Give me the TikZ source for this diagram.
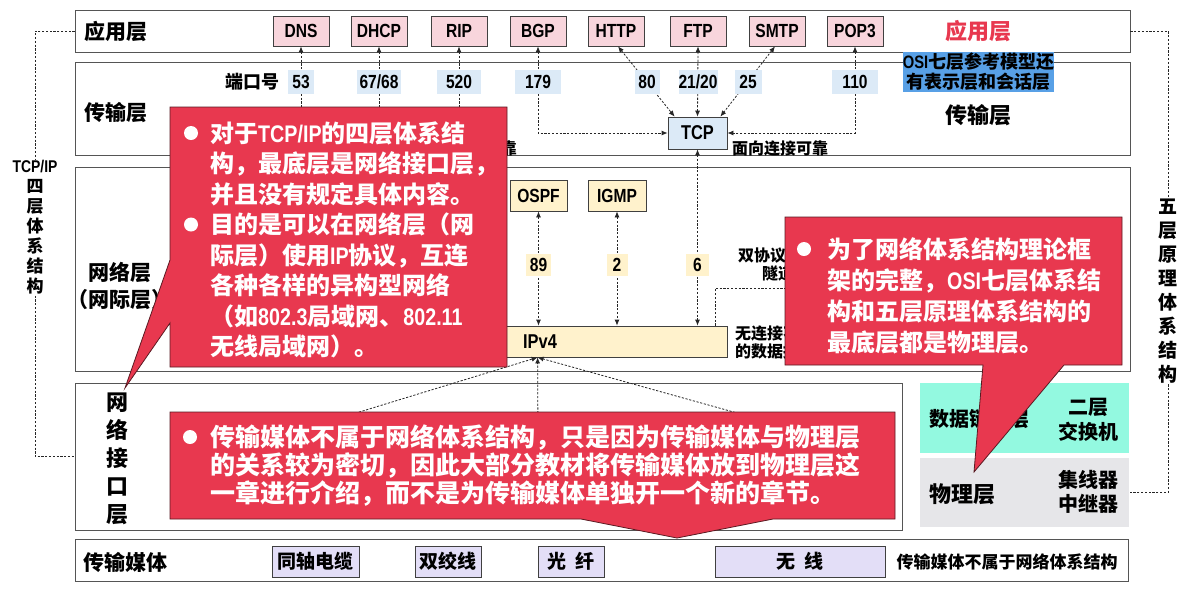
\documentclass[tikz,border=0pt]{standalone}
\usepackage{fontspec}
\setmainfont{Noto Sans CJK SC}
\newfontfamily\nar{Liberation Sans}[FakeStretch=0.82]
\usetikzlibrary{arrows.meta,calc}
\definecolor{lbord}{HTML}{555555}
\definecolor{dkb}{HTML}{404040}
\definecolor{pinkf}{HTML}{F8D5DC}
\definecolor{bluef}{HTML}{DCEAF7}
\definecolor{yelf}{HTML}{FFF2CC}
\definecolor{lavf}{HTML}{E3DEF7}
\definecolor{tealf}{HTML}{93F9E0}
\definecolor{grayf}{HTML}{E6E6E9}
\definecolor{calred}{HTML}{E8384F}
\definecolor{calbord}{HTML}{5A1A22}
\definecolor{osiblue}{HTML}{58A0E6}
\newcommand\fsz[2]{\fontsize{#1}{#2}\selectfont}
\begin{document}
\begin{tikzpicture}[x=1pt,y=-1pt,
  layer/.style={draw=lbord,line width=0.9pt,fill=white,inner sep=0},
  pbox/.style={draw=dkb,line width=0.8pt,fill=pinkf,minimum width=56,minimum height=30,inner sep=0,font=\nar\bfseries\fsz{19}{19}},
  ybox/.style={draw=dkb,line width=0.8pt,fill=yelf,minimum height=31,inner sep=0,font=\nar\bfseries\fsz{19}{19}},
  port/.style={fill=bluef,minimum height=24,inner sep=0,font=\nar\bfseries\fsz{19}{19}},
  yport/.style={fill=yelf,minimum height=22,inner sep=0,font=\nar\bfseries\fsz{19}{19}},
  mbox/.style={draw=dkb,line width=0.8pt,fill=lavf,minimum height=31,inner sep=0,font=\bfseries\fsz{19}{19}},
  lbl/.style={inner sep=0,font=\bfseries\fsz{21}{27}},
  sm/.style={inner sep=0,font=\bfseries\fsz{16}{18}},
  dl/.style={draw=black!85,line width=0.8pt,dash pattern=on 2.2pt off 1.6pt},
  dup/.style={dl,{Latex[length=6pt,width=5pt]}-},
  dend/.style={dl,-{Latex[length=6pt,width=5pt]}},
  dboth/.style={dl,{Latex[length=6pt,width=5pt]}-{Latex[length=6pt,width=5pt]}},
  callout/.style={fill=calred,draw=calbord,line width=0.8pt},
  ct/.style={anchor=west,inner sep=0,text=white,font=\bfseries\fsz{24}{24},text height=21,text depth=3},
  ctb/.style={ct,font=\bfseries\fsz{25}{25},text height=22,text depth=3}]
\path[use as bounding box,fill=white] (0,0) rectangle (1185,598);

% layer boxes
\node[layer,minimum width=1055,minimum height=42] (app) at (602.5,31) {};
\node[layer,minimum width=1055,minimum height=93] (trans) at (602.5,108.5) {};
\node[layer,minimum width=1055,minimum height=204] (net) at (602.5,269) {};
\node[layer,minimum width=827,minimum height=147] (ni) at (488.5,456.5) {};
\node[layer,minimum width=1053,minimum height=42] (media) at (601.5,560) {};
\node[fill=tealf,minimum width=209,minimum height=70,inner sep=0] (dll) at (1024.5,418) {};
\node[fill=grayf,minimum width=209,minimum height=69,inner sep=0] (phy) at (1024.5,492.5) {};

% layer labels
\node[lbl] (applbl) at (115.5,31) {应用层};
\node[lbl] (translbl) at (116,113) {传输层};
\node[lbl,align=center] (netlbl) at (120,285.5) {网络层\\（网际层）};
\node[lbl,align=center,font=\bfseries\fsz{22}{28}] (nilbl) at (117,459) {网\\络\\接\\口\\层};
\node[lbl] (medialbl) at (125,562) {传输媒体};
\node[lbl,text=calred,font=\bfseries\fsz{22}{22}] (appr) at (978,31) {应用层};
\node[lbl,font=\bfseries\fsz{22}{22}] (transr) at (978,115) {传输层};
\node[fill=osiblue,minimum width=151,minimum height=40,inner sep=0,align=center,font=\bfseries\fsz{18}{20}] (osi) at (978.5,72) {{\nar OSI}七层参考模型还\\有表示层和会话层};
\node[anchor=west,inner sep=0,font=\bfseries\fsz{20}{20}] (dlltxt) at (929,419) {数据链路层};
\node[inner sep=0,align=center,font=\bfseries\fsz{20}{25}] (swtxt) at (1088,419.5) {二层\\交换机};
\node[anchor=west,inner sep=0,font=\bfseries\fsz{22}{22}] (phytxt) at (929,494) {物理层};
\node[inner sep=0,align=center,font=\bfseries\fsz{20}{24}] (hubtxt) at (1088,491.5) {集线器\\中继器};

% side brackets
\node[inner sep=1,align=center,font=\bfseries\fsz{17}{20}] (tcpipl) at (35,227.5) {{\nar TCP/IP}\\四\\层\\体\\系\\结\\构};
\draw[dl] (app.west) -| (tcpipl.north);
\draw[dl] (tcpipl.south) |- (ni.west);
\node[inner sep=1,align=center,font=\bfseries\fsz{19}{24}] (fivel) at (1168,291) {五\\层\\原\\理\\体\\系\\结\\构};
\draw[dl] (app.east) -| (fivel.north);
\draw[dl] (fivel.south) |- (phy.east);

% application protocols
\node[pbox] (dns) at (301,31) {DNS};
\node[pbox] (dhcp) at (379,31) {DHCP};
\node[pbox] (rip) at (459,31) {RIP};
\node[pbox] (bgp) at (538,31) {BGP};
\node[pbox] (http) at (616,31) {HTTP};
\node[pbox] (ftp) at (698,31) {FTP};
\node[pbox] (smtp) at (777,31) {SMTP};
\node[pbox] (pop3) at (855,31) {POP3};

% transport
\node[draw=dkb,line width=0.8pt,fill=bluef,minimum width=59,minimum height=32,inner sep=0,font=\nar\bfseries\fsz{20}{20}] (tcp) at (697.5,133) {TCP};
\node[sm,anchor=west] (tcptxt) at (732,149) {面向连接可靠};
\node[sm,anchor=east] (udptxt) at (517,148) {靠};
\node[inner sep=0,font=\bfseries\fsz{18}{18}] (portlbl) at (252,82) {端口号};
\coordinate (udp) at (400,128);
\draw[dup] (dns.south) -- (dns.south |- udp);
\draw[dup] (dhcp.south) -- (dhcp.south |- udp);
\draw[dup] (rip.south) -- (rip.south |- udp);
\draw[dboth] (bgp.south) |- (tcp.west);
\draw[dboth] ($(http.south)+(2,0)$) -- ($(tcp.north west)+(7,0)$);
\draw[dboth] (ftp.south) -- (tcp.north);
\draw[dboth] ($(smtp.south)+(-2,0)$) -- ($(tcp.north east)+(-7,0)$);
\draw[dboth] (pop3.south) |- (tcp.east);
\node[port,minimum width=26] (p53) at (301,82) {53};
\node[port,minimum width=44] (p67) at (379,82) {67/68};
\node[port,minimum width=44] (p520) at (459,82) {520};
\node[port,minimum width=46] (p179) at (538,82) {179};
\node[port,minimum width=25] (p80) at (647,82) {80};
\node[port,minimum width=38] (p21) at (698,82) {21/20};
\node[port,minimum width=27] (p25) at (748,82) {25};
\node[port,minimum width=46] (p110) at (855,82) {110};

% network layer
\node[ybox,minimum width=57] (ospf) at (538.5,195.5) {OSPF};
\node[ybox,minimum width=58] (igmp) at (617,195.5) {IGMP};
\node[draw=dkb,line width=0.8pt,fill=yelf,minimum width=237,minimum height=31,inner sep=0] (ipv4) at (608.5,341.5) {};
\node[inner sep=0,font=\nar\bfseries\fsz{20}{20}] (ipv4t) at (540,342) {IPv4};
\draw[dboth] (ospf.south) -- (ospf.south |- ipv4.north);
\draw[dboth] (igmp.south) -- (igmp.south |- ipv4.north);
\draw[dboth] (tcp.south) -- (tcp.south |- ipv4.north);
\node[yport,minimum width=25] (p89) at (538.5,265) {89};
\node[yport,minimum width=21] (p2) at (617,265) {2};
\node[yport,minimum width=23] (p6) at (697.5,265) {6};
\coordinate (v6) at (830,288);
\draw[dl] ($(ipv4.north east)+(-12,0)$) |- (v6);
\node[sm,anchor=west] (dstxt) at (738,256) {双协议栈};
\node[sm,anchor=west] (tuntxt) at (762,273) {隧道技术};
\node[sm,anchor=west] (cltxt1) at (735,333) {无连接不可靠};
\node[sm,anchor=west] (cltxt2) at (735,351) {的数据报服务};
\coordinate (ipin) at ($(ipv4.south west)+(48,0)$);
\coordinate (nia) at (268,440);
\coordinate (nib) at (538,440);
\coordinate (nic) at (834,440);
\draw[dend] (nia) -- (ipin);
\draw[dend] (nib) -- (ipin);
\draw[dend] (nic) -- (ipin);

% transmission media
\node[mbox,minimum width=87] (coax) at (315.5,561.5) {同轴电缆};
\node[mbox,minimum width=66] (tp) at (448,561.5) {双绞线};
\node[mbox,minimum width=66] (fiber) at (571,561.5) {光\ \ 纤};
\node[mbox,minimum width=170] (wl) at (800,561.5) {无\ \ 线};
\node[inner sep=0,font=\bfseries\fsz{17}{17}] (medianote) at (1007,562) {传输媒体不属于网络体系结构};

% callout 1
\draw[callout] (170,107) -- (507,107) -- (507,367) -- (170,367) -- (170,323) -- (125,388) -- (170,260) -- cycle;
\fill[white] (191,133) circle[radius=7pt];
\fill[white] (191,224.5) circle[radius=7pt];
\node[ct] (c1a) at (210,133) {对于{\nar TCP/IP}的四层体系结};
\node[ct] (c1b) at (210,163.5) {构，最底层是网络接口层，};
\node[ct] (c1c) at (210,194) {并且没有规定具体内容。};
\node[ct] (c1d) at (210,224.5) {目的是可以在网络层（网};
\node[ct] (c1e) at (210,255) {际层）使用{\nar IP}协议，互连};
\node[ct] (c1f) at (210,285.5) {各种各样的异构型网络};
\node[ct] (c1g) at (210,316) {（如{\nar 802.3}局域网、{\nar 802.11}};
\node[ct] (c1h) at (210,346.5) {无线局域网）。};

% callout 2
\draw[callout] (785,217) -- (1122,217) -- (1122,365) -- (1064,365) -- (974,472) -- (983,365) -- (785,365) -- cycle;
\fill[white] (804,249) circle[radius=7pt];
\node[ct] (c2a) at (827,249) {为了网络体系结构理论框};
\node[ct] (c2b) at (827,280) {架的完整，{\nar OSI}七层体系结};
\node[ct] (c2c) at (827,311) {构和五层原理体系结构的};
\node[ct] (c2d) at (827,342) {最底层都是物理层。};

% callout 3
\draw[callout] (170,412) -- (895,412) -- (895,519) -- (773,519) -- (677,538) -- (581,519) -- (170,519) -- cycle;
\fill[white] (190,437) circle[radius=7pt];
\node[ctb] (c3a) at (210,437) {传输媒体不属于网络体系结构，只是因为传输媒体与物理层};
\node[ctb] (c3b) at (210,465) {的关系较为密切，因此大部分教材将传输媒体放到物理层这};
\node[ctb] (c3c) at (210,493) {一章进行介绍，而不是为传输媒体单独开一个新的章节。};
\end{tikzpicture}
\end{document}
